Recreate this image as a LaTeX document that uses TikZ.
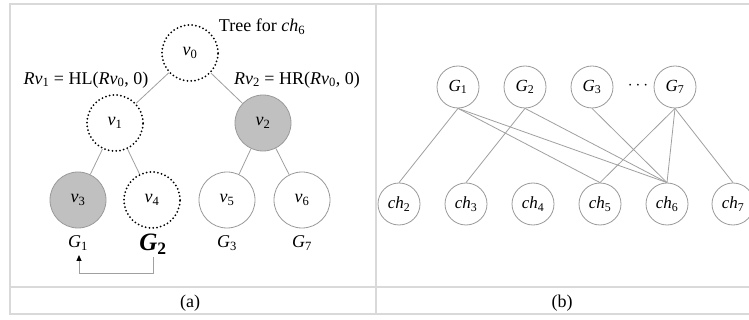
\documentclass[tikz,border=0pt]{standalone}
\usepackage{fontspec}
\setmainfont{Liberation Serif}
\usetikzlibrary{arrows.meta}
\definecolor{framegray}{HTML}{D9D9D9}
\definecolor{edgegray}{HTML}{A0A0A0}
\definecolor{circgray}{HTML}{9A9A9A}
\definecolor{fillgray}{HTML}{C0C0C0}
\newcommand{\vv}[1]{\textit{v}\textsubscript{#1}}
\newcommand{\ch}[1]{\textit{ch}\textsubscript{#1}}
\newcommand{\GG}[1]{\textit{G}\textsubscript{#1}}
\begin{document}
\begin{tikzpicture}[x=1pt,y=-1pt,
  txt/.style={font=\fontsize{18}{20}\selectfont, inner sep=0pt},
  treenode/.style={circle, minimum size=56pt, inner sep=0pt, font=\fontsize{18}{20}\selectfont},
  dotnode/.style={treenode, draw=black, line width=2pt, dash pattern=on 0pt off 3.8pt, line cap=round},
  solidnode/.style={treenode, draw=circgray, line width=0.8pt},
  shadenode/.style={solidnode, fill=fillgray},
  bnode/.style={circle, minimum size=42pt, inner sep=0pt, draw=circgray, line width=0.8pt, font=\fontsize{17}{19}\selectfont},
  edge/.style={draw=edgegray, line width=0.8pt},
  frame/.style={draw=framegray, line width=2pt}
]
\clip (0,0) rectangle (749,320);
\fill[white] (0,0) rectangle (749,320);
% frame
\draw[frame] (10,4) rectangle (770,314);
\draw[frame] (10,287) -- (770,287);
\draw[frame] (376,4) -- (376,314);

% (a) tree
\node[dotnode] (v0) at (190,53) {\vv{0}};
\node[dotnode] (v1) at (115,123) {\vv{1}};
\node[shadenode] (v2) at (263,123) {\vv{2}};
\node[shadenode] (v3) at (78,200) {\vv{3}};
\node[dotnode] (v4) at (152,200) {\vv{4}};
\node[solidnode] (v5) at (227,200) {\vv{5}};
\node[solidnode] (v6) at (302,200) {\vv{6}};
\draw[edge] (v0) -- (v1);
\draw[edge] (v0) -- (v2);
\draw[edge] (v1) -- (v3);
\draw[edge] (v1) -- (v4);
\draw[edge] (v2) -- (v5);
\draw[edge] (v2) -- (v6);

\node[txt] (tree) at (262,27) {Tree for \ch{6}};
\node[txt] (hl) at (86,80) {\textit{Rv}\textsubscript{1} = HL(\textit{Rv}\textsubscript{0}, 0)};
\node[txt] (hr) at (297,80) {\textit{Rv}\textsubscript{2} = HR(\textit{Rv}\textsubscript{0}, 0)};

\node[txt] (g1) at (78,243) {\GG{1}};
\node[inner sep=0pt, font=\fontsize{25}{27}\selectfont\bfseries] (g2) at (153,244) {\textit{G}\textsubscript{2}};
\node[txt] (g3) at (227,243) {\GG{3}};
\node[txt] (g7) at (302,243) {\GG{7}};
\coordinate (c1) at (153,273);
\coordinate (c2) at (79,273);
\draw[edge, -{Triangle[length=6pt,width=5pt,fill=black,color=black]}] (153,257) -- (c1) -- (c2) -- (79,255);

\node[txt] (la) at (190,303) {(a)};

% (b) bipartite
\node[bnode] (G1) at (458,87) {\GG{1}};
\node[bnode] (G2) at (525,87) {\GG{2}};
\node[bnode] (G3) at (592,87) {\GG{3}};
\node[txt] (dots) at (638,86) {$\cdots$};
\node[bnode] (G7) at (675,87) {\GG{7}};
\node[bnode] (ch2) at (399,204) {\ch{2}};
\node[bnode] (ch3) at (466,204) {\ch{3}};
\node[bnode] (ch4) at (533,204) {\ch{4}};
\node[bnode] (ch5) at (600,204) {\ch{5}};
\node[bnode] (ch6) at (667,204) {\ch{6}};
\node[bnode] (ch7) at (733,204) {\ch{7}};
\draw[edge] (G1.south) -- (ch2.north);
\draw[edge] (G1.south) -- (ch5.north);
\draw[edge] (G1.south) -- (ch6.north);
\draw[edge] (G2.south) -- (ch3.north);
\draw[edge] (G2.south) -- (ch6.north);
\draw[edge] (G3.south) -- (ch6.north);
\draw[edge] (G7.south) -- (ch5.north);
\draw[edge] (G7.south) -- (ch6.north);
\draw[edge] (G7.south) -- (ch7.north);

\node[txt] (lb) at (562,303) {(b)};
\end{tikzpicture}
\end{document}
